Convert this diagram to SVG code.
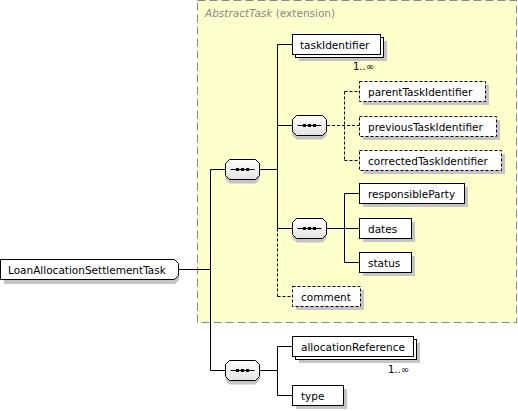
<svg xmlns="http://www.w3.org/2000/svg" width="518" height="411" viewBox="0 0 518 411">
<defs>
<linearGradient id="seqg" x1="0" y1="0" x2="0" y2="1">
<stop offset="0" stop-color="#ffffff"/>
<stop offset="1" stop-color="#e4e4e4"/>
</linearGradient>
<g id="seq">
<path d="M4,4 h26 l4,4 v12 l-4,4 h-26 l-4,-4 v-12 z" fill="#c4c4c4"/>
<path d="M4,0 h26 l4,4 v12 l-4,4 h-26 l-4,-4 v-12 z" fill="url(#seqg)" stroke="#000" stroke-width="1"/>
<line x1="5" y1="10" x2="29" y2="10" stroke="#000" stroke-width="1"/>
<rect x="10.5" y="8.5" width="3" height="3" fill="#000"/>
<rect x="15.5" y="8.5" width="3" height="3" fill="#000"/>
<rect x="20.5" y="8.5" width="3" height="3" fill="#000"/>
</g>
</defs>
<style>
.t{font-family:"DejaVu Sans","Verdana",sans-serif;font-size:10.5px;fill:#000}
.box{fill:#fff;stroke:#000;stroke-width:1}
.opt{fill:#fff;stroke:#000;stroke-width:1;stroke-dasharray:3,2}
.sh{fill:#c4c4c4}
.c{stroke:#000;stroke-width:1;fill:none}
.cd{stroke:#000;stroke-width:1;fill:none;stroke-dasharray:3,2}
.card{font-family:"DejaVu Sans",sans-serif;font-size:10px;fill:#000}
</style>
<rect x="197.5" y="0.5" width="319" height="322" fill="#ffffcc" stroke="#888" stroke-width="1" stroke-dasharray="8,4"/>
<text x="205" y="17" font-family="DejaVu Sans,sans-serif" font-size="10.5" fill="#888"><tspan font-style="italic">AbstractTask</tspan> (extension)</text>

<g id="connectors">
<line class="c" x1="179" y1="269.5" x2="210.5" y2="269.5"/>
<line class="c" x1="210.5" y1="169.5" x2="210.5" y2="370.5"/>
<line class="c" x1="210.5" y1="169.5" x2="226" y2="169.5"/>
<line class="c" x1="210.5" y1="370.5" x2="226" y2="370.5"/>
<line class="c" x1="260" y1="169.5" x2="277.5" y2="169.5"/>
<line class="c" x1="277.5" y1="44.5" x2="277.5" y2="228.5"/>
<line class="cd" x1="277.5" y1="228.5" x2="277.5" y2="296.5"/>
<line class="c" x1="277.5" y1="44.5" x2="293" y2="44.5"/>
<line class="c" x1="277.5" y1="125.5" x2="293" y2="125.5"/>
<line class="c" x1="277.5" y1="228.5" x2="293" y2="228.5"/>
<line class="cd" x1="277.5" y1="296.5" x2="293" y2="296.5"/>
<line class="cd" x1="327" y1="125.5" x2="360" y2="125.5"/>
<line class="cd" x1="344.5" y1="91.5" x2="344.5" y2="160.5"/>
<line class="cd" x1="344.5" y1="91.5" x2="360" y2="91.5"/>
<line class="cd" x1="344.5" y1="160.5" x2="360" y2="160.5"/>
<line class="c" x1="327" y1="228.5" x2="360" y2="228.5"/>
<line class="c" x1="344.5" y1="193.5" x2="344.5" y2="262.5"/>
<line class="c" x1="344.5" y1="193.5" x2="360" y2="193.5"/>
<line class="c" x1="344.5" y1="262.5" x2="360" y2="262.5"/>
<line class="c" x1="260" y1="370.5" x2="277.5" y2="370.5"/>
<line class="c" x1="277.5" y1="346.5" x2="277.5" y2="395.5"/>
<line class="c" x1="277.5" y1="346.5" x2="293" y2="346.5"/>
<line class="c" x1="277.5" y1="395.5" x2="293" y2="395.5"/>
</g>

<g id="root">
<path class="sh" d="M4,263 h171 l4,4 v13 l-4,4 h-171 z"/>
<path class="box" d="M0.5,259.5 h174 l4,4 v12 l-4,4 h-174 z"/>
<text class="t" x="8" y="273.5">LoanAllocationSettlementTask</text>
</g>

<g id="seq-main"><use href="#seq" x="225.5" y="159.5"/></g>
<g id="seq-ids"><use href="#seq" x="292.5" y="115.5"/></g>
<g id="seq-party"><use href="#seq" x="292.5" y="218.5"/></g>
<g id="seq-alloc"><use href="#seq" x="225.5" y="360.5"/></g>

<g id="taskIdentifier">
<rect class="sh" x="299" y="41" width="88" height="20"/>
<rect class="box" x="295.5" y="37.5" width="88" height="20"/>
<rect class="box" x="292.5" y="34.5" width="88" height="20"/>
<text class="t" x="300" y="48.5">taskIdentifier</text>
<text class="card" x="353" y="70">1..∞</text>
</g>

<g id="parentTaskIdentifier">
<rect class="sh" x="363" y="85" width="126" height="20"/>
<rect class="opt" x="359.5" y="81.5" width="126" height="20"/>
<text class="t" x="368" y="95.5">parentTaskIdentifier</text>
</g>
<g id="previousTaskIdentifier">
<rect class="sh" x="363" y="120" width="137" height="20"/>
<rect class="opt" x="359.5" y="116.5" width="137" height="20"/>
<text class="t" x="368" y="130.5">previousTaskIdentifier</text>
</g>
<g id="correctedTaskIdentifier">
<rect class="sh" x="363" y="154" width="142" height="20"/>
<rect class="opt" x="359.5" y="150.5" width="142" height="20"/>
<text class="t" x="368" y="164.5">correctedTaskIdentifier</text>
</g>

<g id="responsibleParty">
<rect class="sh" x="363" y="187" width="105" height="20"/>
<rect class="box" x="359.5" y="183.5" width="105" height="20"/>
<text class="t" x="368" y="197.5">responsibleParty</text>
</g>
<g id="dates">
<rect class="sh" x="363" y="222" width="52" height="20"/>
<rect class="box" x="359.5" y="218.5" width="52" height="20"/>
<text class="t" x="368" y="232.5">dates</text>
</g>
<g id="status">
<rect class="sh" x="363" y="256" width="52" height="20"/>
<rect class="box" x="359.5" y="252.5" width="52" height="20"/>
<text class="t" x="368" y="266.5">status</text>
</g>

<g id="comment">
<rect class="sh" x="296" y="290" width="68" height="20"/>
<rect class="opt" x="292.5" y="286.5" width="68" height="20"/>
<text class="t" x="301" y="300.5">comment</text>
</g>

<g id="allocationReference">
<rect class="sh" x="299" y="343" width="121" height="20"/>
<rect class="box" x="295.5" y="339.5" width="121" height="20"/>
<rect class="box" x="292.5" y="336.5" width="121" height="20"/>
<text class="t" x="301" y="350.5">allocationReference</text>
<text class="card" x="388" y="373">1..∞</text>
</g>

<g id="type">
<rect class="sh" x="296" y="389" width="51" height="20"/>
<rect class="box" x="292.5" y="385.5" width="51" height="20"/>
<text class="t" x="301" y="399.5">type</text>
</g>
</svg>
